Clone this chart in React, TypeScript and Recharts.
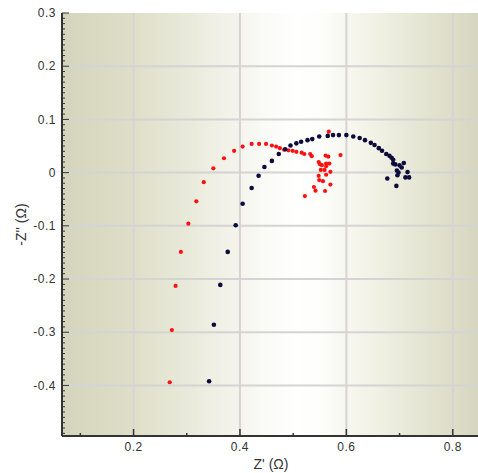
import React from "react";
import { ScatterChart, Scatter, XAxis, YAxis, ReferenceLine } from "recharts";

// Z' (Ohm) and -Z'' (Ohm) for the red series
const redZre = [0.268, 0.272, 0.279, 0.289, 0.303, 0.318, 0.332, 0.35, 0.37, 0.389, 0.405, 0.422, 0.436, 0.449, 0.46, 0.468, 0.475, 0.483, 0.491, 0.499, 0.506, 0.516, 0.521, 0.532, 0.535, 0.567, 0.589, 0.561, 0.566, 0.548, 0.55, 0.562, 0.568, 0.554, 0.562, 0.552, 0.559, 0.57, 0.548, 0.562, 0.549, 0.556, 0.57, 0.539, 0.542, 0.56, 0.522];
const redZim = [-0.394, -0.296, -0.213, -0.149, -0.096, -0.054, -0.018, 0.008, 0.027, 0.041, 0.049, 0.054, 0.054, 0.054, 0.051, 0.049, 0.046, 0.043, 0.042, 0.041, 0.039, 0.0375, 0.035, 0.035, 0.031, 0.077, 0.033, 0.032, 0.03, 0.02, 0.016, 0.017, 0.017, 0.014, 0.012, 0.005, 0.005, 0.0015, -0.006, -0.004, -0.014, -0.016, -0.0225, -0.027, -0.034, -0.0345, -0.044];

// Z' (Ohm) and -Z'' (Ohm) for the navy series
const navyZre = [0.342, 0.351, 0.363, 0.377, 0.392, 0.405, 0.422, 0.435, 0.446, 0.46, 0.473, 0.485, 0.495, 0.506, 0.515, 0.527, 0.536, 0.549, 0.565, 0.575, 0.586, 0.6, 0.613, 0.625, 0.635, 0.646, 0.653, 0.661, 0.667, 0.675, 0.681, 0.685, 0.688, 0.688, 0.692, 0.7, 0.708, 0.704, 0.695, 0.698, 0.696, 0.715, 0.711, 0.718, 0.677, 0.694];
const navyZim = [-0.392, -0.286, -0.211, -0.149, -0.099, -0.0585, -0.029, -0.006, 0.0105, 0.022, 0.035, 0.044, 0.051, 0.055, 0.058, 0.061, 0.063, 0.068, 0.069, 0.0705, 0.0705, 0.0705, 0.068, 0.065, 0.061, 0.056, 0.052, 0.046, 0.041, 0.035, 0.0315, 0.028, 0.024, 0.017, 0.0155, 0.0137, 0.018, 0.0096, 0.004, 0, -0.005, 0.001, -0.009, -0.009, -0.011, -0.025];

const xTicks = [0.1, 0.2, 0.3, 0.4, 0.5, 0.6, 0.7, 0.8];
const xGrid = [0.2, 0.4, 0.6, 0.8];
const yGrid = [-0.4, -0.3, -0.2, -0.1, 0, 0.1, 0.2];
const yTicks: number[] = [];
for (let i = -49; i <= 30; i++) yTicks.push(i / 100);

const xDomain = [0.0655, 0.8512];
const yDomain = [-0.495, 0.3];

const redData = redZre.map((x, i) => ({ x, y: redZim[i] }));
const navyData = navyZre.map((x, i) => ({ x, y: navyZim[i] }));

const FONT = "'Liberation Sans', Arial, sans-serif";
const AXIS = "#333";

const isMajorX = (v: number) => Math.round(v * 10) % 2 === 0;
const isMajorY = (v: number) => Math.round(v * 100) % 10 === 0;

const BottomTick = (props: any) => {
  const { x, y, payload } = props;
  const v = payload.value;
  const major = isMajorX(v);
  return (
    <g>
      <line x1={x} x2={x} y1={y} y2={y - (major ? 7 : 3)} stroke={AXIS} strokeWidth={1.5} />
      {major && (
        <text x={x} y={y + 15} textAnchor="middle" fontFamily={FONT} fontSize={12} fill="#333" letterSpacing={0.5}>
          {v.toFixed(1)}
        </text>
      )}
    </g>
  );
};

const TopTick = (props: any) => {
  const { x, y, payload } = props;
  const major = isMajorX(payload.value);
  return <line x1={x} x2={x} y1={y} y2={y + (major ? 8 : 3)} stroke={AXIS} strokeWidth={1.5} />;
};

const LeftTick = (props: any) => {
  const { x, y, payload } = props;
  const v = payload.value;
  const major = isMajorY(v);
  return (
    <g>
      <line x1={x} x2={x + (major ? 7 : 3)} y1={y} y2={y} stroke={AXIS} strokeWidth={1} />
      {major && (
        <text x={x - 6} y={y} dy="0.35em" textAnchor="end" fontFamily={FONT} fontSize={12} fill="#333" letterSpacing={0.5}>
          {Math.abs(v) < 1e-9 ? "0" : v.toFixed(1)}
        </text>
      )}
    </g>
  );
};

const XLabel = (props: any) => {
  const vb = props.viewBox;
  return (
    <text x={vb.x + vb.width / 2} y={vb.y + vb.height - 4} textAnchor="middle" fontFamily={FONT} fontSize={14} fill="#333">
      Z' (Ω)
    </text>
  );
};

const YLabel = (props: any) => {
  const vb = props.viewBox;
  const cx = vb.x + 21;
  const cy = vb.y + vb.height / 2;
  return (
    <text x={cx} y={cy} textAnchor="middle" dominantBaseline="central" transform={`rotate(-90 ${cx} ${cy})`} fontFamily={FONT} fontSize={14} fill="#333">
      -Z'' (Ω)
    </text>
  );
};

const RedDot = (p: any) => <circle cx={p.cx} cy={p.cy} r={2.1} fill="#ff1010" />;
const NavyDot = (p: any) => <circle cx={p.cx} cy={p.cy} r={2.3} fill="#0c0c3c" />;

export default function App() {
  return (
    <div style={{ position: "absolute", left: 0, top: 0, width: 478, height: 473, overflow: "hidden", background: "#fff" }}>
      <div
        style={{
          position: "absolute",
          left: 62,
          top: 13,
          width: 418,
          height: 423,
          background:
            "linear-gradient(to right, #d5d5bc 0%, #dfdfca 18%, #eeeee2 35%, #fafaf6 48%, #ffffff 56%, #fdfdfa 62%, #eeeee0 78%, #dedeca 92%, #d6d6bf 100%)",
        }}
      />
      <div style={{ position: "absolute", left: 0, top: 0 }}>
        <ScatterChart width={480} height={473} margin={{ top: 13, right: 0, bottom: 0, left: 0 }}>
          <XAxis
            xAxisId={0}
            type="number"
            dataKey="x"
            domain={xDomain}
            allowDataOverflow
            ticks={xTicks}
            interval={0}
            tickSize={0}
            tickMargin={0}
            tickLine={false}
            tick={<BottomTick />}
            axisLine={{ stroke: AXIS, strokeWidth: 2 }}
            height={37}
            label={<XLabel />}
          />
          <XAxis
            xAxisId="top"
            orientation="top"
            type="number"
            dataKey="x"
            domain={xDomain}
            allowDataOverflow
            ticks={xTicks}
            interval={0}
            tickSize={0}
            tickMargin={0}
            tickLine={false}
            tick={<TopTick />}
            axisLine={{ stroke: AXIS, strokeWidth: 2 }}
            height={0}
          />
          <YAxis
            type="number"
            dataKey="y"
            domain={yDomain}
            allowDataOverflow
            ticks={yTicks}
            interval={0}
            tickSize={0}
            tickMargin={0}
            tickLine={false}
            tick={<LeftTick />}
            axisLine={{ stroke: AXIS, strokeWidth: 2 }}
            width={62}
            label={<YLabel />}
          />
          {xGrid.map((v) => (
            <ReferenceLine key={"gx" + v} x={v} stroke="#d4d4d4" strokeWidth={2} />
          ))}
          {yGrid.map((v) => (
            <ReferenceLine key={"gy" + v} y={v} stroke="#d4d4d4" strokeWidth={2} />
          ))}
          <Scatter data={redData} shape={<RedDot />} isAnimationActive={false} />
          <Scatter data={navyData} shape={<NavyDot />} isAnimationActive={false} />
        </ScatterChart>
      </div>
    </div>
  );
}
